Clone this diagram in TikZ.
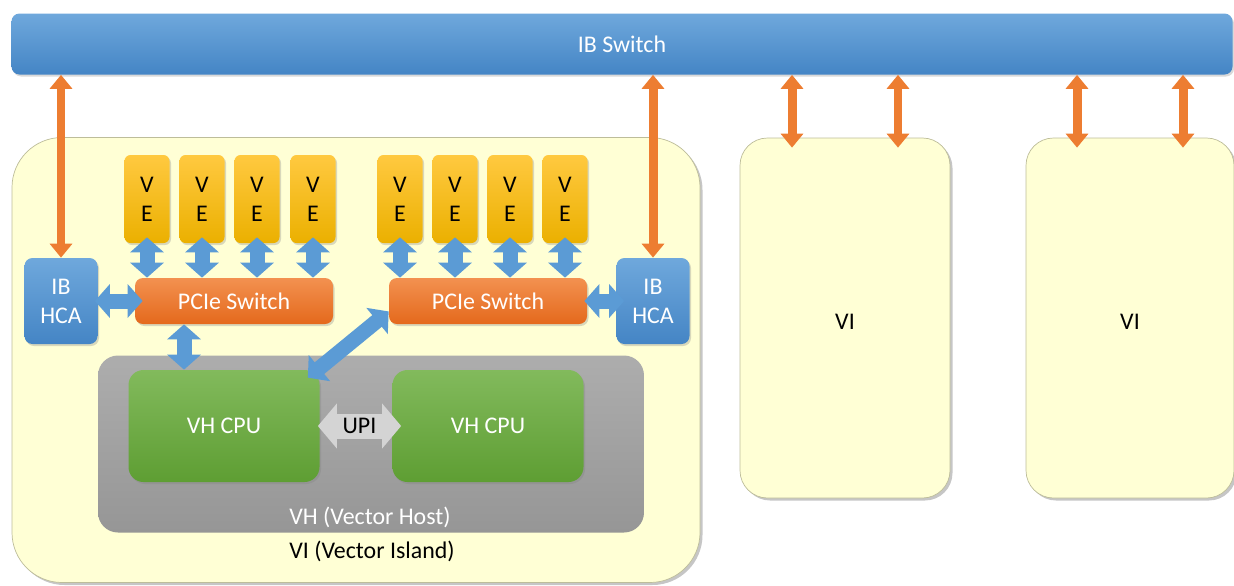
\documentclass[tikz,border=0pt]{standalone}
\usepackage{fontspec}
\setmainfont{Carlito}
\usetikzlibrary{arrows.meta,shadows}
\def\pxu{0.02cm}
\definecolor{ibtop}{HTML}{6FA8DC}
\definecolor{ibbot}{HTML}{4485C5}
\definecolor{vetop}{HTML}{FFC940}
\definecolor{vebot}{HTML}{EBB000}
\definecolor{pcietop}{HTML}{F39150}
\definecolor{pciebot}{HTML}{E4691C}
\definecolor{cputop}{HTML}{82BA5C}
\definecolor{cpubot}{HTML}{5E9E33}
\definecolor{vhtop}{HTML}{ADADAD}
\definecolor{vhbot}{HTML}{969696}
\definecolor{viyellow}{HTML}{FFFFD5}
\definecolor{viborder}{HTML}{BDBD9A}
\definecolor{arrowblue}{HTML}{5B9BD5}
\definecolor{arroworange}{HTML}{ED7D31}
\definecolor{upigray}{HTML}{D4D4D4}
\tikzset{
  txt/.style={font=\fontsize{13.6}{16.5}\selectfont, align=center, inner sep=0pt},
  whitetext/.style={txt, text=white},
  blacktext/.style={txt, text=black},
  softshadow/.style={drop shadow={opacity=0.3, shadow xshift=0.03cm, shadow yshift=-0.04cm}},
  bluebox/.style={whitetext, rounded corners=0.16cm, top color=ibtop, bottom color=ibbot, softshadow},
  vibox/.style={blacktext, draw=viborder, fill=viyellow,
    drop shadow={opacity=0.45, shadow xshift=0.05cm, shadow yshift=-0.05cm}},
  vhbox/.style={whitetext, rounded corners=0.4cm, top color=vhtop, bottom color=vhbot},
  cpubox/.style={whitetext, rounded corners=0.3cm, top color=cputop, bottom color=cpubot, softshadow,
    minimum width=191*\pxu, minimum height=112*\pxu},
  pciebox/.style={whitetext, rounded corners=0.16cm, top color=pcietop, bottom color=pciebot, softshadow,
    minimum width=198*\pxu, minimum height=46*\pxu},
  hcabox/.style={bluebox, minimum width=73*\pxu, minimum height=86*\pxu},
  vebox/.style={blacktext, rounded corners=0.12cm, top color=vetop, bottom color=vebot, softshadow,
    minimum width=45*\pxu, minimum height=88*\pxu},
  bluearrow/.style={draw=arrowblue, line width=0.3cm,
    arrows={Triangle[width=0.66cm,length=0.3cm]-Triangle[width=0.66cm,length=0.3cm]}},
  orangearrow/.style={draw=arroworange, line width=0.18cm,
    arrows={Triangle[width=0.44cm,length=0.28cm]-Triangle[width=0.44cm,length=0.28cm]}},
  upiarrow/.style={draw=upigray, line width=0.5cm,
    arrows={Triangle[width=0.88cm,length=0.38cm]-Triangle[width=0.88cm,length=0.38cm]}}
}

\begin{document}
\begin{tikzpicture}[x=\pxu, y=-\pxu]
  \useasboundingbox (0,0) rectangle (1234,585);
  %%%%% SWITCH %%%%%
  \node[bluebox, minimum width=1221*\pxu, minimum height=61*\pxu] (ibsw) at (622,44) {IB Switch};

  %%%%% ISLANDS %%%%%
  \node[vibox, rounded corners=1cm, minimum width=688*\pxu, minimum height=445*\pxu] (vi1) at (356,360) {};
  \node[vibox, rounded corners=0.55cm, minimum width=210*\pxu, minimum height=360*\pxu] (vi2) at (845,318) {};
  \node[vibox, rounded corners=0.55cm, minimum width=208*\pxu, minimum height=360*\pxu] (vi3) at (1130,318) {};
  \node[blacktext] (vi2label) at (845,322) {VI};
  \node[blacktext] (vi3label) at (1130,322) {VI};

  %%%%% HOST %%%%%
  \node[vhbox, minimum width=546*\pxu, minimum height=177*\pxu] (vh) at (371,444) {};
  \node[whitetext] (vhlabel) at (370,517) {VH (Vector Host)};
  \node[blacktext] (vilabel) at (372,551) {VI (Vector Island)};
  \node[cpubox] (cpu1) at (224,426) {VH CPU};
  \node[cpubox] (cpu2) at (488,426) {VH CPU};

  %%%%% PCIE + HCA %%%%%
  \node[pciebox] (ps1) at (234,301) {PCIe Switch};
  \node[pciebox] (ps2) at (488,301) {PCIe Switch};
  \node[hcabox] (hca1) at (61,301) {IB\\HCA};
  \node[hcabox] (hca2) at (653,301) {IB\\HCA};

  %%%%% VE %%%%%
  \foreach \i/\x in {1/147,2/202,3/257,4/313}
    \node[vebox] (vea\i) at (\x,199) {V\\E};
  \foreach \i/\x in {1/400,2/455,3/510,4/565}
    \node[vebox] (veb\i) at (\x,199) {V\\E};

  %%%%% LINKS %%%%%
  \foreach \i in {1,...,4} {
    \draw[bluearrow] ([yshift=0.12cm]vea\i.south) -- (vea\i.south |- ps1.north);
    \draw[bluearrow] ([yshift=0.12cm]veb\i.south) -- (veb\i.south |- ps2.north);
  }
  \draw[bluearrow] ([xshift=-0.06cm]hca1.east) -- ([xshift=0.16cm]ps1.west);
  \draw[bluearrow] ([xshift=-0.06cm]ps2.east) -- ([xshift=0.16cm]hca2.west);
  \draw[bluearrow] ([xshift=-1cm]ps1.south) -- ([xshift=-1cm]ps1.south |- cpu1.north);
  \draw[bluearrow] (ps2.186) -- ([xshift=-0.24cm, yshift=-0.16cm]cpu1.north east);
  \draw[upiarrow] ([xshift=-0.04cm]cpu1.east) -- node[blacktext] (upi) {UPI} ([xshift=0.18cm]cpu2.west);

  \draw[orangearrow] (ibsw.south -| hca1.north) -- (hca1.north);
  \draw[orangearrow] (ibsw.south -| hca2.north) -- (hca2.north);
  \foreach \n in {vi2,vi3} {
    \coordinate (\n l) at ([xshift=-1.06cm]\n.north);
    \coordinate (\n r) at ([xshift=1.06cm]\n.north);
    \draw[orangearrow] (ibsw.south -| \n l) -- ([yshift=-0.2cm]\n l);
    \draw[orangearrow] (ibsw.south -| \n r) -- ([yshift=-0.2cm]\n r);
  }
\end{tikzpicture}
\end{document}
